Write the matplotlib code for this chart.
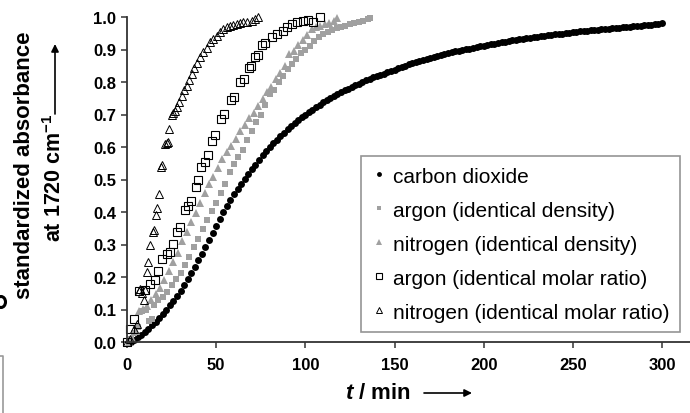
import numpy as np
import matplotlib
matplotlib.use("Agg")
import matplotlib.pyplot as plt
from matplotlib.lines import Line2D
from matplotlib.patches import Ellipse

plt.rcParams['font.family'] = ['Liberation Sans', 'DejaVu Sans']
plt.rcParams['mathtext.fontset'] = 'custom'
plt.rcParams['mathtext.rm'] = 'Liberation Sans:bold'
plt.rcParams['mathtext.bf'] = 'Liberation Sans:bold'
plt.rcParams['mathtext.it'] = 'Liberation Sans:italic:bold'

# carbon dioxide, sampled every 2 min
t_co2 = list(range(2, 301, 2))
y_co2 = [0.000, 0.006, 0.014, 0.021, 0.030, 0.040, 0.051, 0.063, 0.074, 0.086,
         0.099, 0.113, 0.127, 0.142, 0.158, 0.175, 0.193, 0.213, 0.232, 0.251,
         0.271, 0.292, 0.313, 0.335, 0.356, 0.378, 0.399, 0.418, 0.437, 0.455,
         0.471, 0.487, 0.502, 0.517, 0.532, 0.546, 0.560, 0.574, 0.587, 0.600,
         0.611, 0.622, 0.633, 0.643, 0.654, 0.664, 0.673, 0.682, 0.691, 0.699,
         0.707, 0.715, 0.723, 0.730, 0.737, 0.744, 0.750, 0.757, 0.763, 0.769,
         0.774, 0.780, 0.785, 0.790, 0.795, 0.800, 0.805, 0.809, 0.814, 0.818,
         0.822, 0.826, 0.830, 0.834, 0.838, 0.842, 0.846, 0.850, 0.854, 0.858,
         0.862, 0.865, 0.868, 0.871, 0.875, 0.878, 0.881, 0.883, 0.886, 0.889,
         0.891, 0.894, 0.896, 0.899, 0.901, 0.903, 0.905, 0.908, 0.910, 0.912,
         0.914, 0.916, 0.918, 0.920, 0.922, 0.924, 0.926, 0.928, 0.929, 0.931,
         0.933, 0.935, 0.936, 0.938, 0.939, 0.941, 0.942, 0.944, 0.945, 0.947,
         0.948, 0.949, 0.951, 0.952, 0.953, 0.954, 0.956, 0.957, 0.958, 0.959,
         0.960, 0.961, 0.962, 0.963, 0.964, 0.965, 0.966, 0.967, 0.968, 0.969,
         0.970, 0.971, 0.972, 0.973, 0.974, 0.975, 0.976, 0.978, 0.979, 0.981]

# argon, identical density
t_ar_d = [2.0, 4.0, 6.0, 8.5, 10.5, 12.5, 14.0, 15.0, 17.5, 20.0, 22.5, 25.0,
          27.5, 30.0, 32.5, 35.0, 37.5, 40.0, 42.5, 45.0, 47.5, 50.0, 52.5,
          55.0, 57.5, 60.0, 62.5, 65.0, 67.5, 70.0, 72.5, 75.0, 77.5, 80.0,
          82.5, 85.0, 87.5, 90.0, 92.5, 95.0, 97.5, 100.0, 102.5, 105.0,
          107.5, 110.0, 112.5, 115.0, 117.5, 120.0, 122.5, 125.0, 127.5,
          130.0, 132.5, 135.0, 136.5]
y_ar_d = [0.010, 0.028, 0.045, 0.095, 0.100, 0.065, 0.072, 0.115, 0.128, 0.140,
          0.155, 0.174, 0.195, 0.212, 0.237, 0.262, 0.292, 0.318, 0.348, 0.374,
          0.402, 0.428, 0.460, 0.487, 0.522, 0.548, 0.568, 0.592, 0.622, 0.650,
          0.676, 0.700, 0.730, 0.762, 0.776, 0.800, 0.820, 0.840, 0.856, 0.872,
          0.890, 0.900, 0.912, 0.925, 0.940, 0.948, 0.955, 0.960, 0.965, 0.968,
          0.973, 0.977, 0.981, 0.985, 0.989, 0.994, 0.998]

# nitrogen, identical density
t_n2_d = [1.0, 3.0, 5.0, 7.0, 9.0, 11.0, 13.5, 16.0, 18.5, 21.0, 23.5, 26.0,
          28.5, 31.0, 33.5, 36.0, 38.5, 41.0, 43.5, 46.0, 48.5, 51.0, 53.5,
          56.0, 58.5, 61.0, 63.5, 66.0, 68.5, 71.0, 73.5, 76.0, 78.5, 81.0,
          83.5, 86.0, 88.5, 91.0, 93.5, 96.0, 98.5, 101.0, 103.5, 106.0,
          108.5, 111.0, 113.5, 116.0, 118.0]
y_n2_d = [0.000, 0.012, 0.035, 0.095, 0.102, 0.112, 0.128, 0.148, 0.165, 0.190,
          0.218, 0.245, 0.275, 0.310, 0.340, 0.368, 0.398, 0.428, 0.458, 0.485,
          0.508, 0.535, 0.562, 0.585, 0.602, 0.625, 0.650, 0.668, 0.688, 0.705,
          0.725, 0.748, 0.768, 0.785, 0.810, 0.828, 0.848, 0.885, 0.895, 0.915,
          0.930, 0.945, 0.962, 0.968, 0.972, 0.977, 0.982, 0.988, 0.997]

# argon, identical molar ratio
t_ar_m = [0.0, 1.9, 3.7, 6.5, 10.2, 13.0, 15.7, 17.6, 19.4, 22.2, 24.0, 26.0,
          27.8, 29.6, 32.4, 34.3, 36.1, 38.9, 39.8, 41.7, 43.5, 45.4, 47.6,
          49.1, 52.8, 54.6, 58.3, 60.0, 63.3, 65.6, 68.2, 69.7, 71.9, 73.4,
          75.5, 77.4, 81.1, 83.9, 87.3, 89.5, 92.3, 95.1, 98.9, 101.7, 104.5,
          108.2]
y_ar_m = [0.000, 0.040, 0.072, 0.156, 0.159, 0.180, 0.190, 0.217, 0.256, 0.272,
          0.277, 0.303, 0.340, 0.354, 0.405, 0.420, 0.433, 0.477, 0.497, 0.540,
          0.554, 0.574, 0.620, 0.636, 0.687, 0.703, 0.746, 0.753, 0.799, 0.809,
          0.842, 0.848, 0.878, 0.883, 0.914, 0.919, 0.940, 0.948, 0.958, 0.968,
          0.978, 0.984, 0.989, 0.992, 0.984, 0.999]

# nitrogen, identical molar ratio
t_n2_m = [0.0, 1.9, 3.7, 5.6, 6.5, 7.4, 8.3, 9.3, 10.2, 11.1, 12.0, 13.0, 14.8,
          15.3, 16.1, 17.0, 18.1, 19.1, 19.6, 21.3, 22.2, 23.1, 23.7, 25.0,
          26.0, 26.9, 27.8, 29.2, 30.6, 32.0, 33.4, 34.8, 36.2, 37.6, 39.1,
          41.0, 42.8, 44.6, 46.5, 48.4, 50.3, 52.1, 54.0, 55.9, 57.7, 59.6,
          61.5, 63.4, 65.2, 67.5, 69.9, 71.8, 73.6]
y_n2_m = [0.000, 0.010, 0.040, 0.056, 0.156, 0.164, 0.150, 0.128, 0.160, 0.215,
          0.246, 0.300, 0.338, 0.345, 0.392, 0.413, 0.454, 0.540, 0.545, 0.610,
          0.612, 0.615, 0.656, 0.697, 0.705, 0.712, 0.722, 0.740, 0.758, 0.774,
          0.789, 0.807, 0.825, 0.842, 0.860, 0.876, 0.891, 0.906, 0.922, 0.933,
          0.943, 0.953, 0.963, 0.968, 0.973, 0.976, 0.978, 0.981, 0.984, 0.985,
          0.989, 0.994, 0.999]

labels = ["carbon dioxide", "argon (identical density)",
          "nitrogen (identical density)", "argon (identical molar ratio)",
          "nitrogen (identical molar ratio)"]

W, H = 690, 414
fig = plt.figure(figsize=(W / 100, H / 100), dpi=100)
ax = fig.add_axes([127 / W, 71 / H, 563 / W, 325 / H])

gray = "#a0a0a0"
ax.plot(t_co2, y_co2, 'o', ms=5.0, color='black', mew=0, clip_on=False, label=labels[0])
ax.plot(t_ar_d, y_ar_d, 's', ms=5.0, color=gray, mew=0, clip_on=False, label=labels[1])
ax.plot(t_n2_d, y_n2_d, '^', ms=5.6, color=gray, mew=0, clip_on=False, label=labels[2])
ax.plot(t_ar_m, y_ar_m, 's', ms=5.4, mfc='none', mec='black', mew=0.8, clip_on=False, label=labels[3])
ax.plot(t_n2_m, y_n2_m, '^', ms=5.6, mfc='none', mec='black', mew=0.7, clip_on=False, label=labels[4])

ax.set_xlim(0, 300 * 563 / 535)
ax.set_ylim(0, 1.0)
ax.set_xticks([0, 50, 100, 150, 200, 250, 300])
ax.set_yticks(np.arange(0, 1.01, 0.1))
ax.set_yticklabels(["%.1f" % v for v in np.arange(0, 1.01, 0.1)])
for lab in ax.get_xticklabels() + ax.get_yticklabels():
    lab.set_fontweight('bold')
ax.tick_params(labelsize=12, length=4, width=1.1, color='#333333', pad=4)
ax.tick_params(axis='x', pad=7)
ax.spines['top'].set_visible(False)
ax.spines['right'].set_visible(False)
for s in ['left', 'bottom']:
    ax.spines[s].set_linewidth(1.3)
    ax.spines[s].set_color('#333333')

leg = ax.legend(loc='lower right', bbox_to_anchor=(680 / W, (H - 333) / H),
                bbox_transform=fig.transFigure, fontsize=15, frameon=True,
                fancybox=False, edgecolor='#7a7a7a', borderpad=0.5,
                handlelength=0.7, handletextpad=0.35, labelspacing=0.72,
                markerscale=0.7, borderaxespad=0)
leg.get_frame().set_linewidth(1.2)

# axis labels
fig.text(25 / W, (H - 165) / H, "standardized absorbance", rotation=90,
         ha='center', va='center', fontsize=16, fontweight='bold')
fig.text(55 / W, (H - 178) / H, "at 1720 cm$^{-1}$", rotation=90,
         ha='center', va='center', fontsize=15.5, fontweight='bold')
ax.annotate('', xy=(55, H - 45), xytext=(55, H - 115), xycoords='figure pixels',
            arrowprops=dict(arrowstyle='-|>', lw=1.2, color='black',
                            mutation_scale=11, shrinkA=0, shrinkB=0))

fig.text(378 / W, (H - 394) / H, "$t$ / min", ha='center', va='center',
         fontsize=16, fontweight='bold')
ax.annotate('', xy=(472, H - 394), xytext=(424, H - 394), xycoords='figure pixels',
            arrowprops=dict(arrowstyle='-|>', lw=1.2, color='black',
                            mutation_scale=11, shrinkA=0, shrinkB=0))

# cut-off fragments at the left edge
fig.add_artist(Ellipse((1 / W, (H - 303) / H), 9 / W, 11 / H, transform=fig.transFigure,
                       fill=False, lw=2.2, color='black'))
fig.add_artist(Line2D([0, 3 / W, 3 / W], [(H - 357) / H, (H - 357) / H, 0],
                      transform=fig.transFigure, color='#999999', lw=1.2))

fig.savefig("out.png", dpi=100)
